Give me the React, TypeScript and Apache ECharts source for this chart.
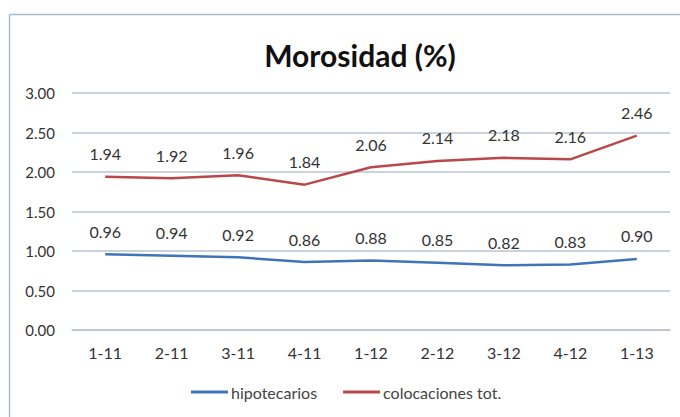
import React, { useEffect, useRef } from "react";
import * as echarts from "echarts";

const categories = ["1-11", "2-11", "3-11", "4-11", "1-12", "2-12", "3-12", "4-12", "1-13"];
const hipotecarios = [0.96, 0.94, 0.92, 0.86, 0.88, 0.85, 0.82, 0.83, 0.9];
const colocaciones = [1.94, 1.92, 1.96, 1.84, 2.06, 2.14, 2.18, 2.16, 2.46];
const yTicks = { min: 0, max: 3, interval: 0.5 };

const FONT = "Lato, 'Open Sans', sans-serif";
const TEXT = "#333333";

export default function App() {
  const ref = useRef<HTMLDivElement>(null);
  useEffect(() => {
    if (!ref.current) return;
    const chart = echarts.init(ref.current, null, { renderer: "svg" });
    const labelCfg = {
      show: true,
      position: "top" as const,
      distance: 15,
      color: TEXT,
      fontSize: 16,
      fontFamily: FONT,
      formatter: (p: any) => Number(p.value).toFixed(2),
    };
    chart.setOption({
      animation: false,
      backgroundColor: "#ffffff",
      title: {
        text: "Morosidad (%)",
        left: 355,
        top: 35,
        textAlign: "center",
        textStyle: { fontFamily: FONT, fontWeight: "bold", fontSize: 30, color: "#111111" },
      },
      graphic: [
        { type: "line", shape: { x1: 9.5, y1: 14.5, x2: 680, y2: 14.5 }, style: { stroke: "#a9bccd", lineWidth: 1.5 } },
        { type: "line", shape: { x1: 9.5, y1: 14.5, x2: 9.5, y2: 417 }, style: { stroke: "#a9bccd", lineWidth: 1.5 } },
      ],
      legend: {
        bottom: 12,
        left: 186,
        itemWidth: 37,
        itemHeight: 3,
        itemGap: 26,
        icon: "rect",
        textStyle: { fontFamily: FONT, fontSize: 16, color: "#444444", padding: [0, 0, 0, -2] },
        data: ["hipotecarios", "colocaciones tot."],
      },
      grid: { left: 72, right: 10, top: 93, bottom: 87, containLabel: false },
      xAxis: {
        type: "category",
        data: categories,
        boundaryGap: true,
        axisLine: { lineStyle: { color: "#b8c4cf", width: 1.5 } },
        axisTick: { show: false },
        axisLabel: { color: TEXT, fontSize: 16, fontFamily: FONT, margin: 14 },
      },
      yAxis: {
        type: "value",
        min: yTicks.min,
        max: yTicks.max,
        interval: yTicks.interval,
        axisLine: { show: false },
        axisTick: { show: false },
        splitLine: { lineStyle: { color: "#b8c4cf", width: 1.5 } },
        axisLabel: {
          color: TEXT,
          fontSize: 15,
          fontFamily: FONT,
          margin: 17,
          formatter: (v: number) => v.toFixed(2),
        },
      },
      series: [
        {
          name: "hipotecarios",
          type: "line",
          data: hipotecarios,
          symbol: "circle",
          symbolSize: 0,
          showSymbol: true,
          color: "#3f74b8",
          lineStyle: { width: 2.5, color: "#3f74b8" },
          label: labelCfg,
        },
        {
          name: "colocaciones tot.",
          type: "line",
          data: colocaciones,
          symbol: "circle",
          symbolSize: 0,
          showSymbol: true,
          color: "#b8484a",
          lineStyle: { width: 2.5, color: "#b8484a" },
          label: labelCfg,
        },
      ],
    });
    return () => chart.dispose();
  }, []);
  return (
    <div
      ref={ref}
      style={{ position: "fixed", left: 0, top: 0, width: 680, height: 417 }}
    />
  );
}
